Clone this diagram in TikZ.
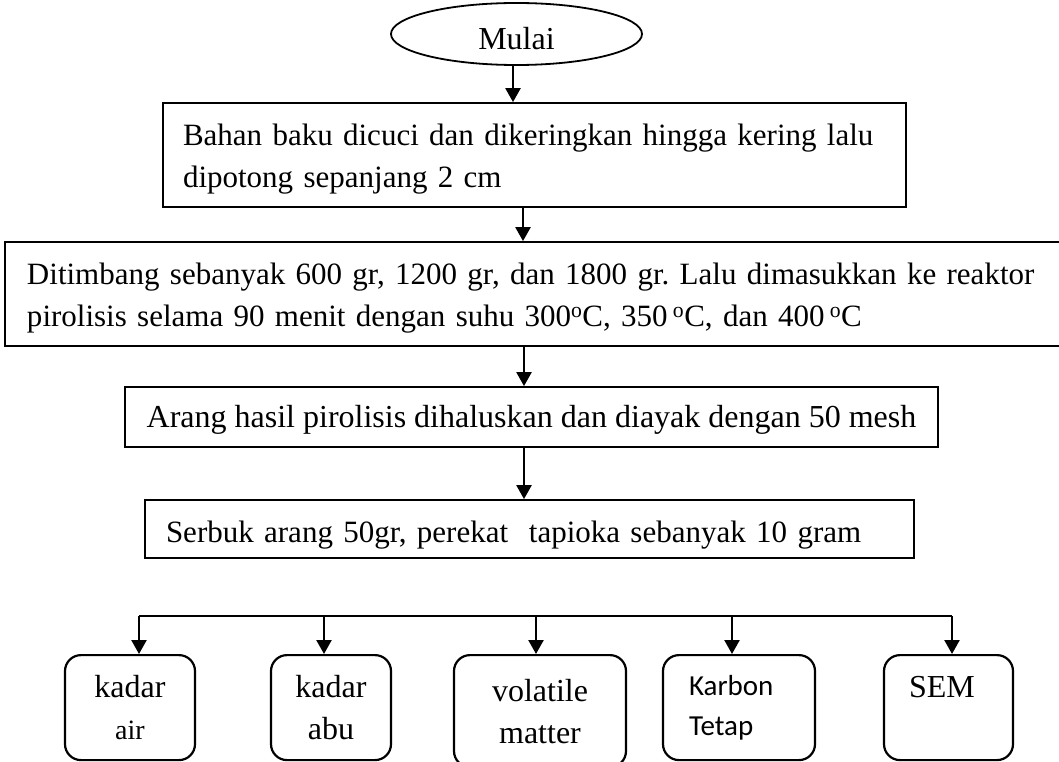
\documentclass[tikz,border=0pt]{standalone}
\usepackage{fontspec}
\setmainfont{Liberation Serif}
\newfontfamily\karbonfont{Carlito}
\usetikzlibrary{arrows.meta,shapes.geometric}
\frenchspacing
\newcommand{\naik}{\rule{0pt}{30pt}}
\tikzset{
  langkah/.style={draw, line width=1.8pt, inner ysep=0pt, font=\fontsize{31}{42}\selectfont},
  uji/.style={draw, line width=2.2pt, rounded corners=16pt, inner sep=0pt, align=center,
    anchor=north, minimum height=105pt, font=\fontsize{32}{42}\selectfont},
  panah/.style={-{Triangle[length=14pt,width=15pt]}, line width=2.4pt},
  garis/.style={line width=2.4pt}
}
\begin{document}
\begin{tikzpicture}[x=1pt,y=-1pt]
    \useasboundingbox (0,0) rectangle (1059,762);
    \clip (0,0) rectangle (1059,762);

    % Mulai
    \node[ellipse, draw, line width=1.8pt, minimum width=251pt, minimum height=62pt, inner sep=0pt,
        text height=32pt, text depth=0pt, font=\fontsize{32}{42}\selectfont] (mulai) at (516.5,34) {Mulai};

    % Tahapan proses
    \node[langkah, minimum height=104pt, text width=703pt, inner xsep=20pt, align=left] (cuci) at (534.5,155)
        {\naik Bahan baku dicuci dan dikeringkan hingga kering lalu\\dipotong sepanjang 2 cm};
    \node[langkah, minimum height=104pt, text width=1031pt, inner xsep=22pt, align=left] (timbang) at (542.5,294)
        {\naik Ditimbang sebanyak 600 gr, 1200 gr, dan 1800 gr. Lalu dimasukkan ke reaktor\\
        pirolisis selama 90 menit dengan suhu 300\textsuperscript{o}C, 350\,\textsuperscript{o}C, dan 400\,\textsuperscript{o}C};
    \node[langkah, minimum height=60pt, minimum width=813pt, text height=27pt, text depth=7pt,
        font=\fontsize{32}{42}\selectfont] (arang) at (531.5,417)
        {Arang hasil pirolisis dihaluskan dan diayak dengan 50 mesh};
    \node[langkah, minimum height=58pt, text width=727pt, inner xsep=21pt, align=left,
        text height=33pt, text depth=7pt] (serbuk) at (529.5,529)
        {Serbuk arang 50gr, perekat~ tapioka sebanyak 10 gram};

    \draw[panah] (mulai.south -| 513,0) -- (cuci.north -| 513,0);
    \draw[panah] (cuci.south -| 523,0) -- (timbang.north -| 523,0);
    \draw[panah] (timbang.south -| 524,0) -- (arang.north -| 524,0);
    \draw[panah] (arang.south -| 524,0) -- (serbuk.north -| 524,0);

    % Pengujian
    \node[uji, minimum width=130pt] (air) at (130,654) {kadar\\{\fontsize{28}{42}\selectfont air}};
    \node[uji, minimum width=120pt] (abu) at (331,654) {kadar\\abu};
    \node[uji, minimum width=172pt, minimum height=112pt] (vol) at (540,654) {volatile\\matter};
    \node[uji, minimum width=152pt, text width=100pt, align=left,
        font=\karbonfont\fontsize{29}{40}\selectfont] (kt) at (739,654) {Karbon\\Tetap};
    \node[uji, minimum width=129pt, text width=79pt, align=left] (sem) at (948.5,654) {SEM\\\mbox{}};

    \coordinate (kiri) at (139,616);
    \coordinate (kanan) at (952,616);
    \draw[garis] (kiri) -- (kanan);
    \foreach \n/\x in {air/139, abu/324, vol/536, kt/732, sem/952} {
        \coordinate (t\n) at (\x,616);
        \draw[panah] (t\n) -- (\n.north -| t\n);
    }
\end{tikzpicture}
\end{document}
